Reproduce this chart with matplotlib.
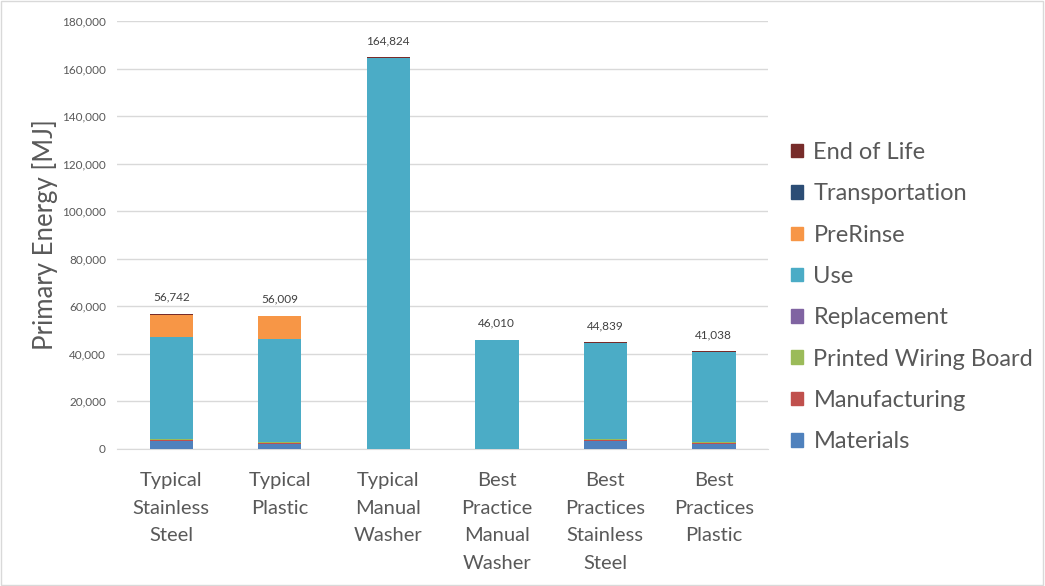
import matplotlib
matplotlib.use("Agg")
import matplotlib.pyplot as plt
from matplotlib.patches import Patch, Rectangle
import numpy as np

plt.rcParams['font.family'] = ['Lato', 'DejaVu Sans']

categories = ["Typical\nStainless\nSteel", "Typical\nPlastic", "Typical\nManual\nWasher",
              "Best\nPractice\nManual\nWasher", "Best\nPractices\nStainless\nSteel",
              "Best\nPractices\nPlastic"]
totals = [56742, 56009, 164824, 46010, 44839, 41038]

series_names = ["Materials", "Manufacturing", "Printed Wiring Board", "Replacement",
                "Use", "PreRinse", "Transportation", "End of Life"]
materials = [3400, 2200, 0, 0, 3400, 2200]
manufacturing = [500, 450, 0, 0, 500, 450]
pwb = [150, 200, 0, 0, 150, 200]
replacement = [100, 100, 0, 0, 100, 100]
use = [43092, 43459, 164524, 46010, 40389, 37788]
prerinse = [9200, 9300, 0, 0, 0, 0]
transportation = [100, 100, 100, 0, 100, 100]
end_of_life = [200, 200, 200, 0, 200, 200]

colors = ["#4F81BD", "#C0504D", "#9BBB59", "#8064A2", "#4BACC6", "#F79646", "#2C4D75", "#772C2A"]
series = [materials, manufacturing, pwb, replacement, use, prerinse, transportation, end_of_life]

fig = plt.figure(figsize=(10.45, 5.86), dpi=100)
ax = fig.add_axes([0.112, 0.234, 0.623, 0.73])

x = np.arange(len(categories))
bottom = np.zeros(len(categories))
for name, vals, c in zip(series_names, series, colors):
    ax.bar(x, vals, 0.4, bottom=bottom, color=c, label=name, zorder=3)
    bottom += np.array(vals)

for xi, t in zip(x, totals):
    ax.annotate(f"{t:,}", (xi, t), xytext=(0, 8), textcoords="offset points",
                ha="center", va="bottom", fontsize=8.5, color="#404040")

ax.set_ylim(0, 180000)
ax.set_xlim(-0.5, len(categories) - 0.5)
ax.set_yticks(np.arange(0, 180001, 20000))
ax.yaxis.set_major_formatter(matplotlib.ticker.FuncFormatter(lambda v, p: f"{int(v):,}"))
ax.grid(axis="y", color="#D9D9D9", linewidth=1, zorder=0)
for s in ["top", "right", "left"]:
    ax.spines[s].set_visible(False)
ax.spines["bottom"].set_color("#D9D9D9")
ax.tick_params(axis="y", length=0, labelsize=8.5, labelcolor="#595959", pad=8)
ax.tick_params(axis="x", length=0, labelsize=14.5, labelcolor="#595959", pad=17)
ax.set_xticks(x)
ax.set_xticklabels(categories, linespacing=1.75)
ax.set_ylabel("Primary Energy [MJ]", fontsize=18.5, color="#595959", labelpad=3)

handles = [Patch(color=c, label=n) for n, c in zip(series_names, colors)][::-1]
fig.legend(handles=handles, loc="center left", bbox_to_anchor=(0.757, 0.493), frameon=False,
           fontsize=17, labelcolor="#595959", handlelength=0.5, handleheight=0.5,
           handletextpad=0.45, labelspacing=0.86, borderpad=0, borderaxespad=0)

fig.patches.append(Rectangle((0.001, 0.001), 0.997, 0.997, transform=fig.transFigure,
                             fill=False, edgecolor="#D9D9D9", linewidth=1))

fig.savefig("out.png", dpi=100)
